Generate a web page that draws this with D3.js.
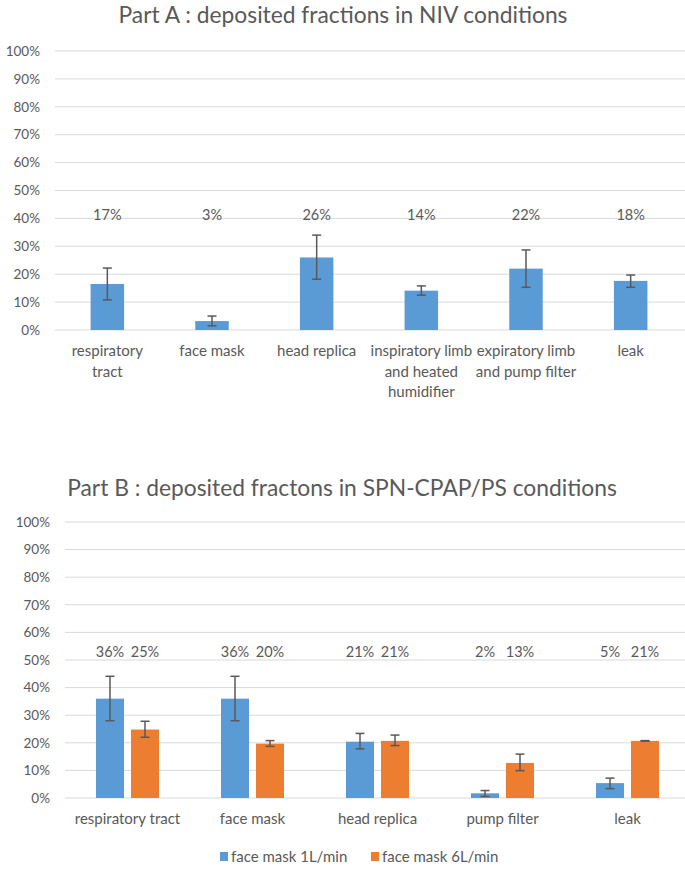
<!DOCTYPE html>
<html>
<head>
<meta charset="utf-8">
<script src="https://cdn.jsdelivr.net/npm/d3@7"></script>
<style>
  body { margin: 0; background: #fff; }
  svg text { font-family: Lato, "Open Sans", sans-serif; fill: #595959; }
</style>
</head>
<body>
<div id="chart"></div>
<script>
// Part A data (NIV)
const catsA = ["respiratory tract", "face mask", "head replica",
  "inspiratory limb and heated humidifier", "expiratory limb and pump filter", "leak"];
const linesA = [["respiratory", "tract"], ["face mask"], ["head replica"],
  ["inspiratory limb", "and heated", "humidifier"], ["expiratory limb", "and pump filter"], ["leak"]];
const valA = [16.5, 3.2, 26.0, 14.1, 22.0, 17.6];
const errHiA = [22.2, 5.0, 34.0, 15.8, 28.7, 19.7];
const errLoA = [10.8, 1.5, 18.2, 12.5, 15.3, 15.3];
const lblA = ["17%", "3%", "26%", "14%", "22%", "18%"];

// Part B data (SPN-CPAP/PS)
const catsB = ["respiratory tract", "face mask", "head replica", "pump filter", "leak"];
const seriesB = ["face mask 1L/min", "face mask 6L/min"];
const val1 = [36.0, 36.0, 20.4, 1.7, 5.4];
const val6 = [24.8, 19.7, 20.7, 12.7, 20.7];
const errHi1 = [44.1, 44.1, 23.4, 2.7, 7.2];
const errLo1 = [28.0, 28.0, 17.8, 0.6, 3.4];
const errHi6 = [27.8, 20.8, 22.8, 15.9, 20.8];
const errLo6 = [22.0, 18.7, 19.0, 9.9, 20.6];
const lbl1 = ["36%", "36%", "21%", "2%", "5%"];
const lbl6 = ["25%", "20%", "21%", "13%", "21%"];

const yTicks = d3.range(0, 101, 10);
const colors = ["#5B9BD5", "#ED7D31"];

const svg = d3.select("#chart").append("svg")
  .attr("width", 685).attr("height", 869);

function axisPanel(left, right, top, bottom, labelX) {
  const y = d3.scaleLinear().domain([0, 100]).range([bottom, top]);
  const g = svg.append("g");
  g.selectAll("line.grid").data(yTicks).join("line")
    .attr("x1", left).attr("x2", right)
    .attr("y1", d => y(d)).attr("y2", d => y(d))
    .attr("stroke", "#D9D9D9").attr("stroke-width", 1);
  g.selectAll("text.tick").data(yTicks).join("text")
    .attr("x", labelX).attr("y", d => y(d)).attr("dy", "0.35em")
    .attr("text-anchor", "end").attr("font-size", 13.5)
    .text(d => d + "%");
  return y;
}

function errBar(g, cx, hi, lo, y) {
  g.append("line").attr("x1", cx).attr("x2", cx).attr("y1", y(hi)).attr("y2", y(lo))
    .attr("stroke", "#595959").attr("stroke-width", 1.5);
  [hi, lo].forEach(v => g.append("line")
    .attr("x1", cx - 4.5).attr("x2", cx + 4.5).attr("y1", y(v)).attr("y2", y(v))
    .attr("stroke", "#595959").attr("stroke-width", 1.5));
}

// ---------- Part A ----------
svg.append("text").attr("x", 343).attr("y", 15).attr("dy", "0.35em")
  .attr("text-anchor", "middle").attr("font-size", 22.8)
  .text("Part A : deposited fractions in NIV conditions");

const yA = axisPanel(55, 685, 51, 330, 40);
const xA = d3.scaleBand().domain(catsA).range([55, 683]);
const bwA = xA.bandwidth() * 0.32;
const gA = svg.append("g");
catsA.forEach((c, i) => {
  const cx = xA(c) + xA.bandwidth() / 2;
  gA.append("rect").attr("x", cx - bwA / 2).attr("width", bwA)
    .attr("y", yA(valA[i])).attr("height", yA(0) - yA(valA[i]))
    .attr("fill", colors[0]);
  errBar(gA, cx, errHiA[i], errLoA[i], yA);
  gA.append("text").attr("x", cx).attr("y", yA(40)).attr("dy", "0.1em")
    .attr("text-anchor", "middle").attr("font-size", 14.5).text(lblA[i]);
  linesA[i].forEach((t, k) => gA.append("text")
    .attr("x", cx).attr("y", 351 + k * 20.5).attr("dy", "0.35em")
    .attr("text-anchor", "middle").attr("font-size", 15).text(t));
});

// ---------- Part B ----------
svg.append("text").attr("x", 342).attr("y", 488).attr("dy", "0.35em")
  .attr("text-anchor", "middle").attr("font-size", 22.8)
  .text("Part B : deposited fractons in SPN-CPAP/PS conditions");

const yB = axisPanel(65, 685, 522, 798, 50);
const xB = d3.scaleBand().domain(catsB).range([65, 690]);
const xB1 = d3.scaleBand().domain(seriesB)
  .range([xB.bandwidth() * 0.248, xB.bandwidth() * 0.752]).paddingInner(0.2);
const gB = svg.append("g");
const valsB = [val1, val6], hiB = [errHi1, errHi6], loB = [errLo1, errLo6], lblB = [lbl1, lbl6];
catsB.forEach((c, i) => {
  seriesB.forEach((s, j) => {
    const x = xB(c) + xB1(s);
    const cx = x + xB1.bandwidth() / 2;
    const v = valsB[j][i];
    gB.append("rect").attr("x", x).attr("width", xB1.bandwidth())
      .attr("y", yB(v)).attr("height", yB(0) - yB(v)).attr("fill", colors[j]);
    errBar(gB, cx, hiB[j][i], loB[j][i], yB);
    gB.append("text").attr("x", cx).attr("y", yB(53)).attr("dy", "0.35em")
      .attr("text-anchor", "middle").attr("font-size", 14.5).text(lblB[j][i]);
  });
  gB.append("text").attr("x", xB(c) + xB.bandwidth() / 2).attr("y", 819).attr("dy", "0.35em")
    .attr("text-anchor", "middle").attr("font-size", 15).text(c);
});

// legend
const leg = svg.append("g");
const legX = [220, 371];
seriesB.forEach((s, j) => {
  leg.append("rect").attr("x", legX[j]).attr("y", 852).attr("width", 8).attr("height", 9)
    .attr("fill", colors[j]);
  leg.append("text").attr("x", legX[j] + 11).attr("y", 857).attr("dy", "0.35em")
    .attr("font-size", 15).text(s);
});
</script>
</body>
</html>
